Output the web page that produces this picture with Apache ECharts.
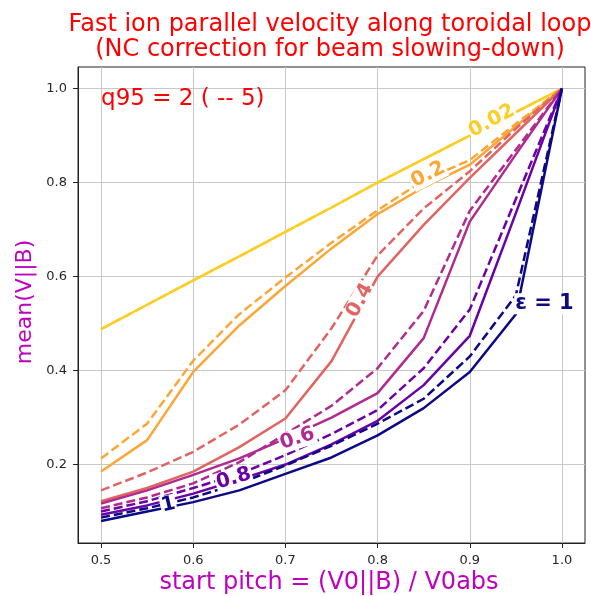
<!DOCTYPE html>
<html>
<head>
<meta charset="utf-8">
<script src="https://cdn.jsdelivr.net/npm/echarts@6/dist/echarts.min.js"></script>
<style>html,body{margin:0;padding:0;background:#fff;}#c{width:591px;height:596px;}</style>
</head>
<body>
<div id="c"></div>
<script>
// ---- data ----
const pitch = [0.5, 0.55, 0.6, 0.65, 0.7, 0.75, 0.8, 0.85, 0.9, 0.95, 1.0];
const xTicks = [0.5, 0.6, 0.7, 0.8, 0.9, 1.0];
const yTicks = [0.2, 0.4, 0.6, 0.8, 1.0];
const epsLabels = ['0.02', '0.2', '0.4', '0.6', '0.8', '1'];
// q95 = 2 (solid)
const v_eps002_q2 = [0.488, 0.540, 0.592, 0.643, 0.695, 0.747, 0.800, 0.850, 0.900, 0.950, 1.0];
const v_eps02_q2  = [0.185, 0.252, 0.397, 0.496, 0.580, 0.660, 0.733, 0.790, 0.838, 0.920, 1.0];
const v_eps04_q2  = [0.122, 0.150, 0.185, 0.237, 0.298, 0.420, 0.600, 0.710, 0.810, 0.905, 1.0];
const v_eps06_q2  = [0.117, 0.145, 0.178, 0.213, 0.255, 0.300, 0.352, 0.469, 0.717, 0.860, 1.0];
const v_eps08_q2  = [0.093, 0.113, 0.138, 0.168, 0.200, 0.243, 0.293, 0.369, 0.474, 0.735, 1.0];
const v_eps1_q2   = [0.080, 0.100, 0.120, 0.145, 0.180, 0.215, 0.262, 0.320, 0.397, 0.520, 1.0];
// q95 = 5 (dashed)
const v_eps002_q5 = [0.488, 0.540, 0.592, 0.643, 0.695, 0.747, 0.800, 0.850, 0.900, 0.950, 1.0];
const v_eps02_q5  = [0.213, 0.287, 0.421, 0.520, 0.598, 0.672, 0.741, 0.805, 0.848, 0.925, 1.0];
const v_eps04_q5  = [0.145, 0.183, 0.227, 0.285, 0.358, 0.490, 0.645, 0.745, 0.824, 0.915, 1.0];
const v_eps06_q5  = [0.107, 0.130, 0.160, 0.205, 0.265, 0.325, 0.405, 0.527, 0.740, 0.870, 1.0];
const v_eps08_q5  = [0.100, 0.122, 0.150, 0.180, 0.220, 0.265, 0.316, 0.405, 0.530, 0.765, 1.0];
const v_eps1_q5   = [0.087, 0.107, 0.130, 0.160, 0.198, 0.240, 0.287, 0.340, 0.430, 0.560, 1.0];
// inline label anchors (data coords)
const labelX = [0.924, 0.855, 0.781, 0.713, 0.644, 0.573];
const labelY = [0.931, 0.817, 0.549, 0.255, 0.170, 0.114];
const epsOneLabel = [0.981, 0.542];

// ---- styles ----
const colors = ['#fcce25', '#fca636', '#e16462', '#b12a90', '#6a00a8', '#0d0887'];
const labelRot = [28, 27, 62, 18, 16, 13];
const FONT = 'DejaVu Sans';
const solidSets = [v_eps002_q2, v_eps02_q2, v_eps04_q2, v_eps06_q2, v_eps08_q2, v_eps1_q2];
const dashSets  = [v_eps002_q5, v_eps02_q5, v_eps04_q5, v_eps06_q5, v_eps08_q5, v_eps1_q5];

const series = [];
for (let i = 0; i < 6; i++) {
  series.push({
    type: 'line', name: 'q2 ' + epsLabels[i], showSymbol: false, symbol: 'none',
    data: pitch.map((x, k) => [x, solidSets[i][k]]),
    lineStyle: { color: colors[i], width: 2.5, type: 'solid' },
    z: 2, animation: false
  });
  series.push({
    type: 'line', name: 'q5 ' + epsLabels[i], showSymbol: false, symbol: 'none',
    data: pitch.map((x, k) => [x, dashSets[i][k]]),
    lineStyle: { color: colors[i], width: 2.5, type: [9, 4] },
    z: 2, animation: false
  });
}

const chart = echarts.init(document.getElementById('c'), null, { renderer: 'canvas' });
const axisTextColor = '#262626';
chart.setOption({
  backgroundColor: '#fff',
  animation: false,
  grid: { left: 78, right: 6, top: 67, bottom: 53, show: true, borderColor: '#222', borderWidth: 1, backgroundColor: 'transparent', containLabel: false },
  xAxis: {
    type: 'value', min: 0.475, max: 1.025,
    axisLine: { show: true, onZero: false, lineStyle: { color: '#222', width: 1 } },
    axisTick: { show: true, length: 5, lineStyle: { color: '#222' }, customValues: xTicks },
    axisLabel: { show: true, customValues: xTicks, formatter: v => v.toFixed(1), color: axisTextColor, fontFamily: FONT, fontSize: 13, margin: 11 },
    splitLine: { show: true, lineStyle: { color: '#c8c8c8', width: 1 } }
  },
  yAxis: {
    type: 'value', min: 0.033, max: 1.046,
    axisLine: { show: true, onZero: false, lineStyle: { color: '#222', width: 1 } },
    axisTick: { show: true, length: 5, lineStyle: { color: '#222' }, customValues: yTicks },
    axisLabel: { show: true, customValues: yTicks, formatter: v => v.toFixed(1), color: axisTextColor, fontFamily: FONT, fontSize: 13, margin: 11 },
    splitLine: { show: true, lineStyle: { color: '#c8c8c8', width: 1 } }
  },
  series: series
});

const gfx = [];
// titles & axis names
gfx.push({ type: 'text', x: 330, y: 25, z: 100, style: { text: 'Fast ion parallel velocity along toroidal loop', fill: '#ff0000', font: '24px "' + FONT + '"', textAlign: 'center', textVerticalAlign: 'middle' } });
gfx.push({ type: 'text', x: 330, y: 50, z: 100, style: { text: '(NC correction for beam slowing-down)', fill: '#ff0000', font: '24px "' + FONT + '"', textAlign: 'center', textVerticalAlign: 'middle' } });
gfx.push({ type: 'text', x: 329, y: 583, z: 100, style: { text: 'start pitch = (V0||B) / V0abs', fill: '#bf00bf', font: '24px "' + FONT + '"', textAlign: 'center', textVerticalAlign: 'middle' } });
gfx.push({ type: 'text', x: 25, y: 302, rotation: Math.PI / 2, z: 100, style: { text: 'mean(V||B)', fill: '#bf00bf', font: '22px "' + FONT + '"', textAlign: 'center', textVerticalAlign: 'middle' } });
const qPos = chart.convertToPixel({ gridIndex: 0 }, [0.5, 0.978]);
gfx.push({ type: 'text', x: qPos[0], y: qPos[1], z: 100, style: { text: 'q95 = 2 ( -- 5)', fill: '#ff0000', font: '23px "' + FONT + '"', textAlign: 'left', textVerticalAlign: 'middle' } });
// inline labels
for (let i = 0; i < 6; i++) {
  const p = chart.convertToPixel({ gridIndex: 0 }, [labelX[i], labelY[i]]);
  gfx.push({ type: 'text', x: p[0], y: p[1], rotation: labelRot[i] * Math.PI / 180, z: 50,
    style: { text: epsLabels[i], fill: colors[i], font: 'bold 20px "' + FONT + '"', textAlign: 'center', textVerticalAlign: 'middle', backgroundColor: '#fff', padding: [0, 1] } });
}
const pe = chart.convertToPixel({ gridIndex: 0 }, epsOneLabel);
gfx.push({ type: 'text', x: pe[0], y: pe[1], z: 50,
  style: { text: 'ε = 1', fill: colors[5], font: 'bold 21px "' + FONT + '"', textAlign: 'center', textVerticalAlign: 'middle', backgroundColor: '#fff', padding: [0, 1] } });
chart.setOption({ graphic: gfx });
</script>
</body>
</html>
